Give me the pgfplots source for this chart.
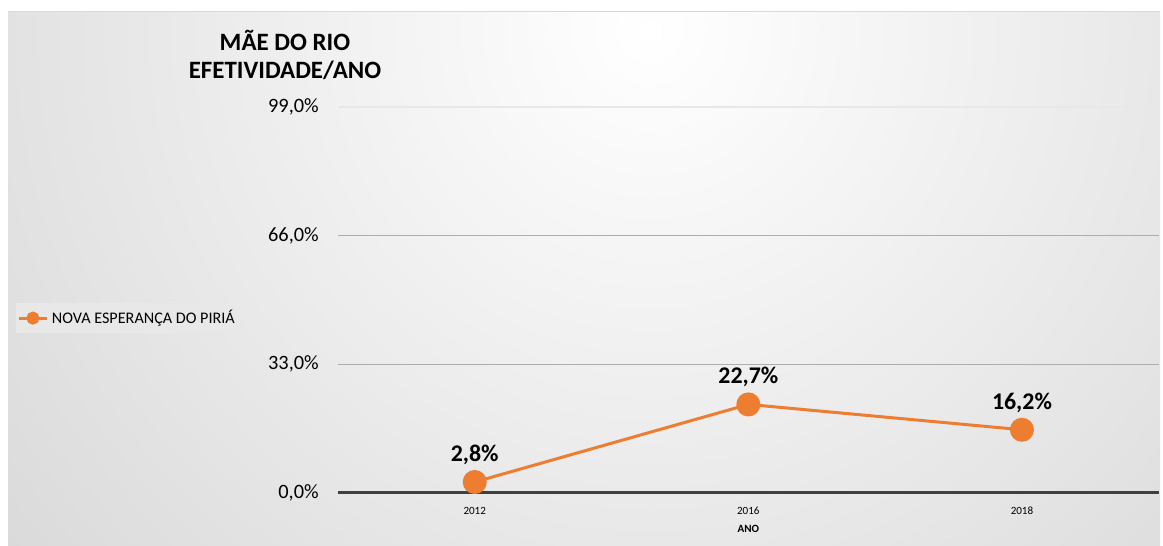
\documentclass[border=0pt]{standalone}
\usepackage{pgfplots}
\pgfplotsset{compat=1.18}
\usepackage{fontspec}
\setmainfont{Carlito}
\definecolor{orng}{HTML}{ED7D31}
\begin{document}
\begin{tikzpicture}
\begin{scope}[x=0.02cm,y=-0.02cm]
\path[use as bounding box] (0,0) rectangle (1163,545);
\fill[white] (0,0) rectangle (1163,545);
\begin{scope}
\clip (8,11) rectangle (1160,545);
\shade[inner color=white, outer color=black!22] (650,30) circle (1250);
\end{scope}
\draw[black!15, line width=0.02cm] (8,11) -- (1160,11);
\node[font=\fontsize{14.2}{16}\selectfont\bfseries, anchor=base] at (285,50) {MÃE DO RIO};
\node[font=\fontsize{14.2}{16}\selectfont\bfseries, anchor=base] at (285,78) {EFETIVIDADE/ANO};
\end{scope}
\begin{axis}[
  at={(6.76cm,-9.86cm)}, anchor=south west,
  scale only axis, width=16.42cm, height=7.72cm,
  xmin=-0.5, xmax=2.5, ymin=0, ymax=99,
  clip=false,
  axis x line*=bottom, axis y line*=left,
  x axis line style={draw=black!75, line width=0.06cm, -},
  y axis line style={draw=none},
  major tick length=0,
  xtick={0,1,2}, xticklabels={2012,2016,2018},
  ytick={0,33,66,99}, yticklabels={{0,0\%},{33,0\%},{66,0\%},{99,0\%}},
  extra y ticks={33,66}, extra y tick labels={},
  extra y tick style={ymajorgrids=true, grid style={black!32, line width=0.6pt}},
  yticklabel style={font=\fontsize{11.6}{13}\selectfont, xshift=-0.26cm},
  xticklabel style={font=\fontsize{6.3}{7}\selectfont, yshift=-0.16cm},
  xlabel={ANO},
  xlabel style={at={(axis description cs:0.5,0)}, anchor=base, yshift=-0.8cm, font=\fontsize{6.3}{7}\selectfont\bfseries},
  legend style={at={(axis description cs:-0.393,0.453)}, anchor=west, fill=black!9, draw=none, font=\fontsize{9.2}{10}\selectfont, inner xsep=1pt},
  legend image code/.code={\draw[#1, mark size=0.1cm, line width=0.06cm, mark repeat=2, mark phase=2] plot coordinates {(0cm,0cm) (0.28cm,0cm) (0.56cm,0cm)};},
]
\draw[black!9, line width=0.6pt] (axis cs:-0.5,99) -- (axis cs:2.5,99);
\addplot[orng, line width=0.06cm, mark=*, mark size=0.21cm, mark options={fill=orng, draw=orng},
  point meta=y,
  nodes near coords={\pgfmathprintnumber[fixed,fixed zerofill,precision=1,use comma,assume math mode=true]{\pgfplotspointmeta}\%},
  every node near coord/.append style={font=\fontsize{13.6}{16}\selectfont\bfseries, text=black, anchor=south, yshift=0.2cm}]
  coordinates {(0,2.8) (1,22.7) (2,16.2)};
\addlegendentry{NOVA ESPERANÇA DO PIRIÁ}
\end{axis}
\end{tikzpicture}
\end{document}
